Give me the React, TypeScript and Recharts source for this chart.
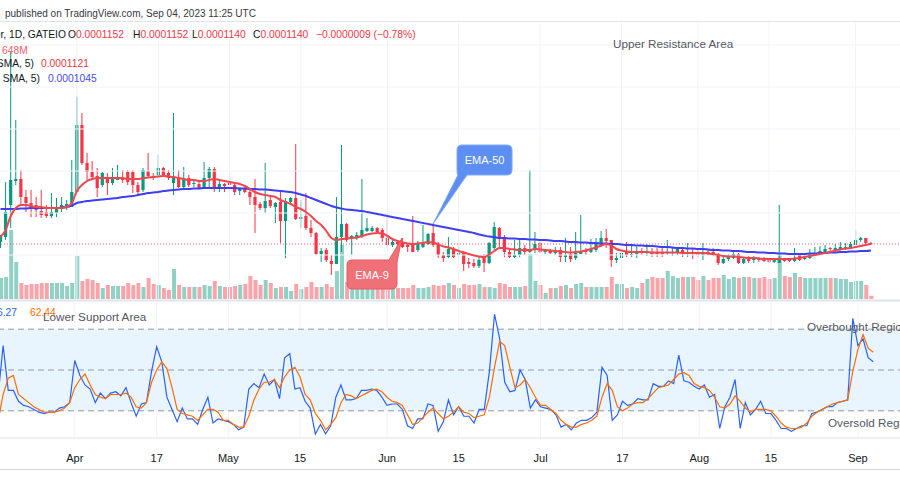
import React from "react";
import {
  ComposedChart,
  Bar,
  Line,
  XAxis,
  YAxis,
  ReferenceLine,
  ReferenceArea,
  Cell,
} from "recharts";

// daily candles, price in units of 1e-7 USDT: [open, high, low, close]
const candles: [number, number, number, number][] = [
  [1160, 1230, 1100, 1210], [1210, 1760, 1180, 1460], [1530, 3060, 1300, 1780], [1770, 2380, 1730, 1790], [1790, 1880, 1530, 1610],
  [1610, 1680, 1460, 1550], [1550, 1680, 1410, 1510], [1530, 1610, 1410, 1480], [1470, 1680, 1400, 1430], [1460, 1530, 1400, 1420],
  [1420, 1650, 1400, 1460], [1450, 1600, 1410, 1500], [1490, 1610, 1460, 1530], [1520, 1580, 1480, 1540], [1510, 1980, 1510, 1660],
  [1660, 2610, 1660, 2330], [2330, 2450, 1930, 1950], [1950, 2050, 1780, 1860], [1860, 1970, 1780, 1810], [1820, 1900, 1610, 1700],
  [1730, 1860, 1710, 1850], [1800, 1850, 1630, 1750], [1750, 1900, 1730, 1810], [1780, 1930, 1780, 1800], [1800, 1880, 1750, 1780],
  [1860, 1880, 1730, 1760], [1860, 1880, 1650, 1730], [1730, 1760, 1630, 1660], [1680, 1900, 1660, 1880], [1870, 2050, 1800, 1820],
  [1820, 1850, 1780, 1800], [1830, 2030, 1810, 1900], [1900, 1910, 1810, 1830], [1850, 1880, 1780, 1800], [1750, 2450, 1630, 1800],
  [1800, 1880, 1700, 1710], [1710, 1910, 1700, 1800], [1800, 1830, 1710, 1730], [1740, 1780, 1710, 1750], [1740, 1760, 1700, 1700],
  [1700, 1960, 1700, 1800], [1800, 1910, 1700, 1890], [1890, 1910, 1660, 1710], [1710, 1780, 1660, 1740], [1740, 1750, 1660, 1720],
  [1750, 1860, 1710, 1730], [1730, 1750, 1630, 1660], [1670, 1710, 1630, 1690], [1690, 1710, 1650, 1660], [1660, 1700, 1530, 1610],
  [1610, 1790, 1250, 1530], [1540, 1560, 1480, 1500], [1500, 1950, 1450, 1570], [1580, 1610, 1500, 1520], [1510, 1560, 1350, 1550],
  [1560, 1680, 1150, 1370], [1370, 1600, 1000, 1570], [1560, 1610, 1550, 1600], [1600, 2140, 1380, 1390], [1390, 1580, 1300, 1410],
  [1420, 1650, 1280, 1300], [1300, 1380, 1210, 1250], [1250, 1260, 1030, 1040], [1040, 1100, 960, 1070], [1080, 1100, 960, 980],
  [970, 1030, 830, 940], [940, 1610, 940, 1210], [1210, 2130, 1060, 1340], [1340, 1350, 1160, 1180], [1200, 1230, 1030, 1220],
  [1200, 1260, 1180, 1230], [1210, 1790, 1200, 1280], [1270, 1400, 1260, 1300], [1270, 1320, 1260, 1300], [1300, 1310, 1250, 1260],
  [1280, 1300, 1160, 1200], [1200, 1400, 1110, 1130], [1130, 1180, 1110, 1160], [1160, 1180, 1110, 1140], [1150, 1200, 1100, 1110],
  [1130, 1150, 1060, 1110], [1130, 1420, 1060, 1060], [1080, 1170, 1060, 1150], [1110, 1330, 1100, 1160], [1140, 1250, 1130, 1240],
  [1250, 1340, 1110, 1130], [1140, 1160, 1000, 1030], [1030, 1060, 960, 1000], [1010, 1210, 1000, 1090], [1090, 1110, 1000, 1010],
  [1030, 1150, 1000, 1050], [1060, 1070, 870, 940], [960, 1000, 900, 940], [950, 990, 900, 920], [920, 1010, 900, 980],
  [1010, 1040, 860, 950], [950, 1160, 940, 1150], [1100, 1360, 1080, 1310], [1300, 1310, 1100, 1210], [1210, 1230, 1010, 1060],
  [1060, 1100, 1000, 1010], [1010, 1180, 1000, 1030], [1030, 1200, 1010, 1100], [1100, 1130, 1030, 1060], [1060, 1880, 1050, 1080],
  [1080, 1260, 1050, 1140], [1150, 1160, 1050, 1060], [1060, 1080, 1040, 1070], [1070, 1090, 1040, 1050], [1050, 1110, 1030, 1080],
  [1080, 1110, 960, 1010], [1010, 1200, 960, 1030], [1040, 1110, 960, 990], [1000, 1260, 980, 1050], [1040, 1430, 1040, 1060],
  [1080, 1100, 1030, 1060], [1060, 1190, 1050, 1090], [1080, 1200, 1060, 1140], [1130, 1270, 1110, 1200], [1200, 1290, 1100, 1170],
  [1180, 1180, 910, 980], [980, 1050, 950, 1000], [1000, 1200, 980, 1050], [1060, 1160, 1010, 1030], [1030, 1130, 1010, 1040],
  [1040, 1110, 1000, 1070], [1060, 1100, 1030, 1050], [1050, 1140, 1020, 1060], [1060, 1100, 1010, 1040], [1060, 1100, 1010, 1040],
  [1060, 1110, 1010, 1040], [1050, 1180, 1030, 1060], [1050, 1100, 1020, 1060], [1060, 1110, 1030, 1090], [1080, 1110, 1010, 1040],
  [1040, 1150, 1010, 1060], [1060, 1100, 990, 1040], [1050, 1080, 1010, 1030], [1030, 1150, 980, 1060], [1060, 1080, 1030, 1040],
  [1060, 1100, 1020, 1040], [1040, 1050, 930, 950], [950, 1010, 940, 990], [990, 1040, 970, 1010], [1000, 1060, 990, 1040],
  [1040, 1050, 940, 950], [950, 1010, 940, 990], [1000, 1020, 950, 970], [980, 1020, 950, 1000], [1000, 1010, 960, 980],
  [990, 1010, 960, 970], [980, 1000, 950, 960], [960, 1000, 950, 980], [950, 1530, 950, 990], [990, 1000, 960, 970],
  [990, 1000, 960, 970], [970, 1100, 960, 990], [1030, 1040, 970, 980], [990, 1030, 980, 1000], [1000, 1090, 990, 1050],
  [1040, 1110, 1030, 1050], [1040, 1120, 1030, 1070], [1050, 1130, 1040, 1090], [1100, 1110, 1060, 1090], [1080, 1140, 1060, 1100],
  [1090, 1160, 1080, 1110], [1090, 1150, 1080, 1110], [1100, 1160, 1100, 1140], [1130, 1280, 1130, 1180], [1180, 1210, 1160, 1200],
  [1200, 1200, 1140, 1150], [1150, 1160, 1130, 1140],
];

// volume, millions
const volume = [
  4200, 4400, 13800, 7400, 3200, 2800, 3000, 3000, 3200, 3200,
  3200, 3200, 3200, 2600, 3200, 8600, 3600, 4000, 3800, 3200,
  2200, 2800, 2600, 2600, 2600, 3200, 2800, 3200, 2400, 4200,
  3000, 2800, 2200, 1800, 6000, 2800, 2400, 2400, 2400, 2400,
  2800, 2600, 3600, 2600, 2400, 2400, 2600, 2800, 3000, 4600,
  3800, 2800, 3800, 3200, 2200, 2400, 2400, 1600, 3000, 2000,
  2400, 3400, 2400, 2400, 3000, 2400, 5600, 10800, 3400, 2600,
  2400, 2200, 2600, 2400, 2200, 2400, 2400, 2200, 2200, 2200,
  2200, 2800, 2200, 2200, 2400, 2800, 2600, 2800, 3200, 2800,
  2200, 3000, 2800, 2800, 3000, 2400, 2400, 2200, 3200, 3000,
  2400, 2400, 2400, 2600, 9000, 3600, 2800, 1200, 2200, 2200,
  2600, 2800, 2200, 3000, 3200, 2400, 2400, 2400, 2400, 2400,
  4400, 3000, 3000, 2200, 2400, 2200, 3200, 4000, 4400, 4200,
  4200, 5600, 4600, 4200, 4400, 4400, 4400, 3800, 4600, 3800,
  4200, 4200, 4800, 4000, 4400, 4200, 4400, 4400, 4200, 4200,
  4400, 4000, 4200, 8800, 4600, 4400, 5200, 4400, 4200, 4200,
  4200, 4200, 4200, 4200, 4200, 4000, 4000, 3400, 3600, 3600,
  2800, 648,
];

const ema9 = [
  1210, 1280, 1420, 1500, 1530, 1530, 1520, 1510, 1510, 1500,
  1500, 1500, 1500, 1510, 1550, 1670, 1730, 1770, 1790, 1800,
  1800, 1800, 1800, 1800, 1800, 1790, 1790, 1790, 1800, 1805,
  1810, 1815, 1820, 1815, 1810, 1800, 1790, 1780, 1780, 1770,
  1770, 1780, 1790, 1780, 1770, 1760, 1750, 1740, 1720, 1690,
  1660, 1640, 1630, 1620, 1610, 1580, 1560, 1540, 1510, 1490,
  1460, 1420, 1370, 1330, 1270, 1200, 1180, 1190, 1195, 1200,
  1205, 1220, 1235, 1245, 1250, 1245, 1220, 1190, 1170, 1155,
  1145, 1140, 1145, 1150, 1160, 1155, 1135, 1115, 1105, 1090,
  1070, 1055, 1040, 1025, 1015, 1010, 1035, 1070, 1100, 1100,
  1090, 1085, 1080, 1080, 1080, 1090, 1085, 1080, 1075, 1070,
  1065, 1060, 1055, 1060, 1065, 1075, 1090, 1105, 1125, 1140,
  1125, 1090, 1075, 1065, 1060, 1060, 1060, 1060, 1055, 1055,
  1055, 1055, 1055, 1055, 1050, 1050, 1050, 1050, 1050, 1045,
  1040, 1030, 1020, 1015, 1015, 1010, 1005, 1000, 1000, 995,
  990, 990, 990, 990, 990, 990, 995, 1000, 1010, 1020,
  1030, 1040, 1050, 1060, 1075, 1085, 1095, 1100, 1110, 1120,
  1130, 1140,
];

const ema50 = [
  1490, 1490, 1490, 1490, 1495, 1495, 1500, 1500, 1500, 1500,
  1500, 1500, 1505, 1510, 1525, 1550, 1560, 1570, 1575, 1580,
  1585, 1590, 1595, 1600, 1610, 1615, 1620, 1630, 1640, 1650,
  1655, 1660, 1670, 1675, 1680, 1685, 1690, 1690, 1695, 1695,
  1700, 1700, 1700, 1700, 1700, 1700, 1700, 1695, 1695, 1690,
  1690, 1685, 1685, 1680, 1675, 1670, 1665, 1660, 1650, 1635,
  1620, 1600, 1580, 1560, 1540, 1520, 1505, 1495, 1485, 1480,
  1475, 1470, 1460, 1450, 1440, 1430, 1420, 1410, 1400, 1390,
  1380, 1370, 1360, 1350, 1340, 1330, 1320, 1310, 1300, 1290,
  1280, 1270, 1260, 1250, 1235, 1225, 1215, 1210, 1200, 1200,
  1195, 1195, 1190, 1190, 1185, 1185, 1180, 1180, 1175, 1170,
  1170, 1165, 1160, 1160, 1155, 1155, 1150, 1150, 1145, 1145,
  1140, 1140, 1135, 1130, 1130, 1125, 1125, 1120, 1120, 1115,
  1110, 1110, 1105, 1100, 1100, 1095, 1095, 1090, 1090, 1085,
  1080, 1080, 1075, 1075, 1070, 1070, 1065, 1060, 1060, 1055,
  1055, 1050, 1050, 1045, 1045, 1040, 1040, 1040, 1040, 1045,
  1045, 1050, 1050, 1055, 1055, 1060, 1060, 1065, 1065, 1070,
  1070, 1075,
];

// Stoch RSI %K and %D
const stochK = [
  30, 68, 35, 35, 27, 24, 23, 21, 19, 18,
  19, 19, 22, 23, 26, 57, 46, 39, 36, 26,
  33, 29, 33, 34, 31, 37, 26, 16, 25, 26,
  49, 67, 56, 30, 21, 12, 22, 14, 14, 10,
  21, 30, 11, 14, 13, 12, 10, 6, 8, 36,
  40, 37, 47, 39, 43, 29, 59, 62, 36, 37,
  27, 22, 3, 10, 3, 9, 30, 39, 28, 28,
  29, 35, 35, 36, 35, 30, 24, 25, 25, 21,
  9, 7, 14, 14, 25, 24, 5, 12, 28, 17,
  23, 16, 16, 11, 21, 21, 49, 91, 73, 41,
  34, 35, 50, 43, 22, 28, 23, 22, 21, 17,
  8, 10, 6, 11, 13, 13, 15, 19, 52, 46,
  13, 17, 27, 24, 25, 29, 28, 28, 40, 38,
  38, 42, 40, 61, 42, 41, 38, 36, 39, 30,
  32, 7, 23, 30, 43, 7, 26, 17, 21, 27,
  18, 18, 13, 7, 7, 5, 7, 9, 9, 18,
  19, 21, 23, 23, 26, 27, 28, 88, 68, 73,
  59, 56,
];

const stochD = [
  12, 32, 44, 46, 32, 29, 26, 23, 21, 19,
  19, 19, 20, 22, 26, 37, 43, 47, 39, 32,
  30, 29, 32, 32, 32, 33, 30, 23, 22, 26,
  41, 50, 56, 51, 37, 21, 18, 17, 16, 13,
  17, 21, 21, 19, 13, 13, 10, 8, 8, 16,
  28, 36, 41, 41, 43, 37, 45, 50, 52, 45,
  32, 28, 18, 13, 6, 10, 15, 26, 32, 31,
  29, 31, 33, 35, 36, 34, 30, 27, 26, 24,
  17, 10, 11, 15, 19, 22, 18, 14, 16, 19,
  23, 19, 18, 15, 16, 17, 30, 52, 71, 68,
  52, 37, 39, 43, 37, 30, 24, 24, 21, 18,
  13, 10, 8, 8, 10, 11, 13, 16, 30, 40,
  35, 23, 20, 22, 25, 26, 26, 29, 33, 37,
  38, 39, 43, 47, 48, 46, 40, 38, 37, 35,
  30, 23, 22, 25, 31, 27, 22, 19, 21, 21,
  21, 20, 16, 11, 8, 7, 7, 8, 11, 16,
  19, 21, 23, 25, 26, 27, 28, 49, 65, 76,
  66, 63,
];

const tickDates = [
  "2023-04-01", "2023-04-17", "2023-05-01", "2023-05-15", "2023-06-01", "2023-06-15",
  "2023-07-01", "2023-07-17", "2023-08-01", "2023-08-15", "2023-09-01",
];
const tickLabels = ["Apr", "17", "May", "15", "Jun", "15", "Jul", "17", "Aug", "15", "Sep"];

const lastClose = 1140;
const priceGrid = [1030, 1450, 1870, 2290, 2710, 3130];
const stochGrid = [40, 60];
const stochLevels = [80, 50, 20];

const FONT = '"Liberation Sans", Arial, sans-serif';
const UP = "#089981";
const DOWN = "#f23645";
const GRID = "#f0f3fa";
const padDays = 6;

const dates = Array.from({ length: candles.length + padDays }, (_, i) =>
  new Date(Date.UTC(2023, 2, 17 + i)).toISOString().slice(0, 10)
);

const rows = dates.map((date, i) => {
  const c = candles[i];
  if (!c) return { date };
  return {
    date,
    range: [c[2], c[1]],
    o: c[0],
    h: c[1],
    l: c[2],
    c: c[3],
    vol: volume[i],
    ema9: ema9[i],
    ema50: ema50[i],
    k: stochK[i],
    d: stochD[i],
  };
});

const labelOf: Record<string, string> = {};
tickDates.forEach((d, i) => (labelOf[d] = tickLabels[i]));

const Candle = (props: any) => {
  const { x, y, width, height, payload } = props;
  if (!payload || payload.o == null) return null;
  const { o, h, l, c } = payload;
  const mid = x + width / 2;
  const ppu = h === l ? 0 : height / (h - l);
  const top = y + (h - Math.max(o, c)) * ppu;
  const bot = y + (h - Math.min(o, c)) * ppu;
  const color = c >= o ? UP : DOWN;
  return (
    <g>
      <line x1={mid} x2={mid} y1={y} y2={y + height} stroke={color} strokeWidth={1} />
      <rect x={mid - 1.6} y={top} width={3.2} height={Math.max(bot - top, 1)} fill={color} />
    </g>
  );
};

const DateTick = (props: any) => {
  const { x, y, payload } = props;
  return (
    <text x={x} y={y + 24} textAnchor="middle" fontSize={11} fill="#131722" fontFamily={FONT}>
      {labelOf[payload.value]}
    </text>
  );
};

const W = 906;

export default function App() {
  return (
    <div
      style={{
        position: "absolute",
        left: 0,
        top: 0,
        width: 900,
        height: 500,
        overflow: "hidden",
        background: "#fff",
        fontFamily: FONT,
      }}
    >
      <div style={{ position: "absolute", left: -2, top: 22 }}>
        <ComposedChart width={W} height={277} data={rows} margin={{ top: 0, right: 0, bottom: 0, left: 0 }}>
          <XAxis xAxisId="x" dataKey="date" hide />
          <XAxis xAxisId="xv" dataKey="date" hide />
          <YAxis yAxisId="price" domain={[590, 3360]} hide allowDataOverflow />
          <YAxis yAxisId="vol" domain={[0, 55400]} hide allowDataOverflow />
          {priceGrid.map((p) => (
            <ReferenceLine key={p} xAxisId="x" yAxisId="price" y={p} stroke={GRID} strokeWidth={1} />
          ))}
          {tickDates.map((d) => (
            <ReferenceLine key={d} xAxisId="x" yAxisId="price" x={d} stroke={GRID} strokeWidth={1} />
          ))}
          <Bar xAxisId="xv" yAxisId="vol" dataKey="vol" barSize={4} isAnimationActive={false}>
            {rows.map((r: any, i) => (
              <Cell key={i} fill={r.c >= r.o ? UP : DOWN} fillOpacity={0.45} />
            ))}
          </Bar>
          <ReferenceLine
            xAxisId="x"
            yAxisId="price"
            y={lastClose}
            stroke={DOWN}
            strokeDasharray="1 2"
            strokeOpacity={0.8}
          />
          <Line
            xAxisId="x"
            yAxisId="price"
            dataKey="ema50"
            type="monotone"
            stroke="#3e3ef4"
            strokeWidth={2}
            dot={false}
            isAnimationActive={false}
          />
          <Line
            xAxisId="x"
            yAxisId="price"
            dataKey="ema9"
            type="monotone"
            stroke="#f0474f"
            strokeWidth={2}
            dot={false}
            isAnimationActive={false}
          />
          <Bar
            xAxisId="x"
            yAxisId="price"
            dataKey="range"
            shape={(p: any) => <Candle {...p} />}
            isAnimationActive={false}
          />
        </ComposedChart>
      </div>

      <div style={{ position: "absolute", left: -2, top: 302 }}>
        <ComposedChart width={W} height={168} data={rows} margin={{ top: 0, right: 0, bottom: 0, left: 0 }}>
          <XAxis
            dataKey="date"
            ticks={tickDates}
            interval={0}
            height={32}
            tickLine={false}
            tickSize={0}
            tickMargin={0}
            axisLine={{ stroke: "#e0e3eb" }}
            tick={<DateTick />}
          />
          <YAxis domain={[0, 100]} hide allowDataOverflow />
          <ReferenceArea y1={20} y2={80} fill="#2196f3" fillOpacity={0.1} stroke="none" />
          {stochGrid.map((v) => (
            <ReferenceLine key={v} y={v} stroke={GRID} strokeWidth={1} />
          ))}
          {tickDates.map((d) => (
            <ReferenceLine key={d} x={d} stroke={GRID} strokeWidth={1} />
          ))}
          {stochLevels.map((v) => (
            <ReferenceLine key={v} y={v} stroke="#9598a1" strokeDasharray="6 4" />
          ))}
          <Line dataKey="k" type="linear" stroke="#2962ff" strokeWidth={1.2} dot={false} isAnimationActive={false} />
          <Line dataKey="d" type="linear" stroke="#ff6d00" strokeWidth={1.2} dot={false} isAnimationActive={false} />
        </ComposedChart>
      </div>

      <svg
        width={900}
        height={500}
        style={{ position: "absolute", left: 0, top: 0, pointerEvents: "none" }}
        fontFamily={FONT}
      >
        <line x1={0} x2={900} y1={21.5} y2={21.5} stroke="#e0e3eb" />
        <line x1={0} x2={900} y1={300.5} y2={300.5} stroke="#e0e3eb" strokeWidth={2} />
        <line x1={0} x2={900} y1={469.5} y2={469.5} stroke="#d1d4dc" />

        <text x={5} y={17} fontSize={10} fill="#363a45">
          published on TradingView.com, Sep 04, 2023 11:25 UTC
        </text>

        <g fontSize={10.3}>
          <text x={66} y={38} textAnchor="end" fill="#131722">er, 1D, GATEIO</text>
          <text x={68} y={38}>
            <tspan fill="#131722">O</tspan>
            <tspan fill={DOWN}>0.0001152</tspan>
          </text>
          <text x={133} y={38}>
            <tspan fill="#131722">H</tspan>
            <tspan fill={DOWN}>0.0001152</tspan>
          </text>
          <text x={192} y={38}>
            <tspan fill="#131722">L</tspan>
            <tspan fill={DOWN}>0.0001140</tspan>
          </text>
          <text x={253} y={38}>
            <tspan fill="#131722">C</tspan>
            <tspan fill={DOWN}>0.0001140</tspan>
          </text>
          <text x={316} y={38} fill={DOWN}>−0.0000009 (−0.78%)</text>
          <text x={2} y={54} fill="#f5606b">648M</text>
          <text x={34} y={67} textAnchor="end" fill="#131722">SMA, 5)</text>
          <text x={41} y={67} fill={DOWN}>0.0001121</text>
          <text x={40} y={82} textAnchor="end" fill="#131722">, SMA, 5)</text>
          <text x={48} y={82} fill="#4848ff">0.0001045</text>
          <text x={17} y={315.5} textAnchor="end" fill="#2962ff">56.27</text>
          <text x={30} y={315.5} fill="#ff6d00">62.44</text>
        </g>

        <g fontSize={11.7} fill="#555862">
          <text x={613} y={48}>Upper Resistance Area</text>
          <text x={43} y={321}>Lower Support Area</text>
          <text x={807} y={331}>Overbought Region</text>
          <text x={828} y={427}>Oversold Region</text>
        </g>

        <path
          d="M462 145 H507 Q512 145 512 150 V170 Q512 175 507 175 H467 L433 224 L458 175 Q457 175 457 170 V150 Q457 145 462 145 Z"
          fill="#5d8ef2"
          stroke="#82aaf7"
          strokeWidth={1}
        />
        <text x={484.5} y={164} textAnchor="middle" fontSize={11} fill="#fff">EMA-50</text>

        <path
          d="M352 260 H389 L402 238 L397 262 V284 Q397 289 392 289 H352 Q347 289 347 284 V265 Q347 260 352 260 Z"
          fill="#f07078"
          stroke="#e45a63"
          strokeWidth={1}
        />
        <text x={372} y={278.5} textAnchor="middle" fontSize={11} fill="#fff">EMA-9</text>
      </svg>
    </div>
  );
}
